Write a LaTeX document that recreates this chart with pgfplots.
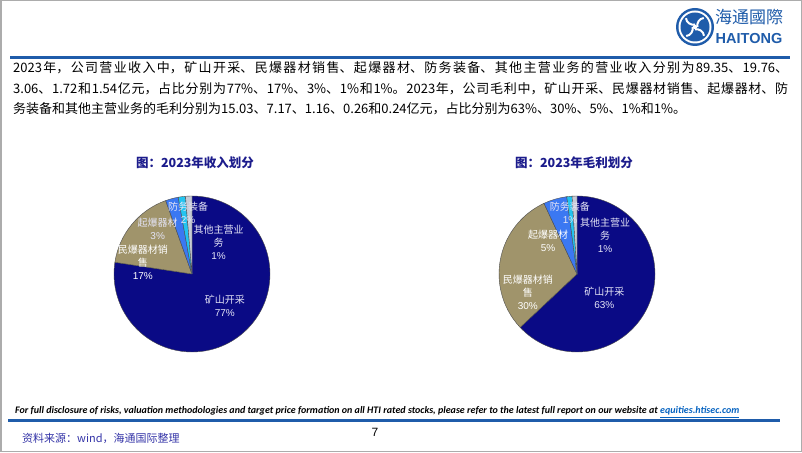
\documentclass[border=0pt]{standalone}
\usepackage{fontspec}
\setmainfont{Liberation Sans}
\newfontfamily\cjk{Noto Sans CJK SC}
\newfontfamily\footfont{Carlito}
\usepackage{pgfplots}
\usepackage{pgfplotstable}
\pgfplotsset{compat=1.18}
\XeTeXlinebreaklocale "zh"
\XeTeXlinebreakskip=0pt plus 3pt

\definecolor{mining}{HTML}{0A0A85}
\definecolor{sales}{HTML}{A0946B}
\definecolor{deton}{HTML}{3B78F2}
\definecolor{defense}{HTML}{22C4F0}
\definecolor{other}{HTML}{C6CBD6}
\definecolor{titleblue}{HTML}{1C1C8C}
\definecolor{barblue}{HTML}{1F5CAA}
\definecolor{srcblue}{HTML}{3535A8}
\definecolor{linkblue}{HTML}{0563C1}
\definecolor{lablight}{HTML}{E4E4F6}

% 2023 revenue and gross profit, 亿元
\pgfplotstableread{
seg value
mining 89.35
sales 19.76
deton 3.06
defense 1.72
other 1.54
}\revdata
\pgfplotstableread{
seg value
mining 15.03
sales 7.17
deton 1.16
defense 0.26
other 0.24
}\gpdata

% start/end angle of each slice, clockwise from 12 o'clock
\newcommand\makeangles[2]{%
  \gdef\pietotal{0}%
  \pgfplotstableforeachcolumnelement{value}\of#1\as\cell{%
    \pgfmathsetmacro\tmp{\pietotal+\cell}\xdef\pietotal{\tmp}}%
  \gdef\pieacc{90}%
  \pgfplotstableforeachcolumnelement{value}\of#1\as\cell{%
    \expandafter\xdef\csname #2s\pgfplotstablerow\endcsname{\pieacc}%
    \pgfmathsetmacro\tmp{\pieacc-360*(\cell/\pietotal)}\xdef\pieacc{\tmp}%
    \expandafter\xdef\csname #2e\pgfplotstablerow\endcsname{\pieacc}}%
}
\makeangles{\revdata}{rev}
\makeangles{\gpdata}{gp}

\newcommand\slice[3]{%
  \draw[fill=#3, draw=black!70, line width=0.4pt] (axis cs:0,0)
    -- ++(\csname #1s#2\endcsname:78pt)
    arc[start angle=\csname #1s#2\endcsname, end angle=\csname #1e#2\endcsname, radius=78pt]
    -- cycle;}

\pgfplotsset{pie/.style={
  hide axis, scale only axis, width=156pt, height=156pt,
  xmin=-1, xmax=1, ymin=-1, ymax=1, clip=false, anchor=center}}
\tikzset{lab/.style={text=lablight, align=center, inner sep=0pt,
    font=\cjk\fontsize{10}{13}\selectfont}}

\begin{document}
\begin{tikzpicture}[x=1pt, y=1pt]
\useasboundingbox (0,0) rectangle (802,452);
\fill[white] (0,0) rectangle (802,452);
\draw[gray!65, line width=1.5pt] (0.75,0.75) rectangle (801.25,451.25);

% logo
\fill[barblue] (695,425) circle (19);
\fill[white] (695,425) circle (16.5);
\fill[barblue] (695,425) circle (14.5);
\foreach \a in {0,90,180,270}
  \draw[white, line width=2pt] (695,425) ++(\a:2.5) to[bend left=50] +(\a+55:11);
\fill[white] (695,425) circle (2.2);
\node[anchor=center, text=barblue, font=\cjk\fontsize{17}{18}\selectfont, inner sep=0]
  at (749,435) {海通國際};
\node[anchor=center, text=barblue, font=\bfseries\fontsize{14.5}{15}\selectfont, inner sep=0]
  at (749,413) {HAITONG};

% bars
\fill[barblue] (10,393) rectangle (790,396);
\fill[barblue] (8,30) rectangle (780,33);

% body text
\node[anchor=base west, inner sep=0] at (13,379) {\parbox[t]{775pt}{\cjk\fontsize{13}{20.5}\selectfont
\parindent=0pt
2023年，公司营业收入中，矿山开采、民爆器材销售、起爆器材、防务装备、其他主营业务的营业收入分别为89.35、19.76、\linebreak
3.06、1.72和1.54亿元，占比分别为77\%、17\%、3\%、1\%和1\%。2023年，公司毛利中，矿山开采、民爆器材销售、起爆器材、防\linebreak
务装备和其他主营业务的毛利分别为15.03、7.17、1.16、0.26和0.24亿元，占比分别为63\%、30\%、5\%、1\%和1\%。}};

% titles
\node[text=titleblue, font=\cjk\bfseries\fontsize{12.5}{14}\selectfont] at (195,289) {图：2023年收入划分};
\node[text=titleblue, font=\cjk\bfseries\fontsize{12.5}{14}\selectfont] at (574,289) {图：2023年毛利划分};

% revenue pie
\begin{axis}[pie, at={(192pt,178pt)}]
  \slice{rev}{0}{mining}
  \slice{rev}{1}{sales}
  \slice{rev}{2}{deton}
  \slice{rev}{3}{defense}
  \slice{rev}{4}{other}
  \node[lab] at (axis cs:0.42,-0.41) {矿山开采\\\textrm{77\%}};
  \node[lab] at (axis cs:0.34,0.41) {其他主营业\\务\\\textrm{1\%}};
  \node[lab] at (axis cs:-0.05,0.79) {防务装备\\\textrm{2\%}};
  \node[lab] at (axis cs:-0.44,0.58) {起爆器材\\\textrm{3\%}};
  \node[lab, text=white] at (axis cs:-0.63,0.15) {民爆器材销\\售\\\textrm{17\%}};
\end{axis}

% gross profit pie
\begin{axis}[pie, at={(577pt,178pt)}]
  \slice{gp}{0}{mining}
  \slice{gp}{1}{sales}
  \slice{gp}{2}{deton}
  \slice{gp}{3}{defense}
  \slice{gp}{4}{other}
  \node[lab] at (axis cs:0.35,-0.30) {矿山开采\\\textrm{63\%}};
  \node[lab] at (axis cs:0.36,0.50) {其他主营业\\务\\\textrm{1\%}};
  \node[lab] at (axis cs:-0.09,0.78) {防务装备\\\textrm{1\%}};
  \node[lab, text=white] at (axis cs:-0.37,0.42) {起爆器材\\\textrm{5\%}};
  \node[lab, text=white] at (axis cs:-0.63,-0.23) {民爆器材销\\售\\\textrm{30\%}};
\end{axis}

% footer
\node[anchor=base west, inner sep=0, font=\footfont\bfseries\itshape\fontsize{10}{12}\selectfont]
  at (15,38) {For full disclosure of risks, valuation methodologies and target price formation on all HTI rated stocks, please refer to the latest full report on our website at \textcolor{linkblue}{\underline{equities.htisec.com}}};
\node[anchor=base west, inner sep=0, text=srcblue, font=\cjk\fontsize{11}{12}\selectfont]
  at (22,10) {资料来源：wind，海通国际整理};
\node[anchor=base, inner sep=0, font=\fontsize{12}{13}\selectfont] at (375,16) {7};
\end{tikzpicture}
\end{document}
